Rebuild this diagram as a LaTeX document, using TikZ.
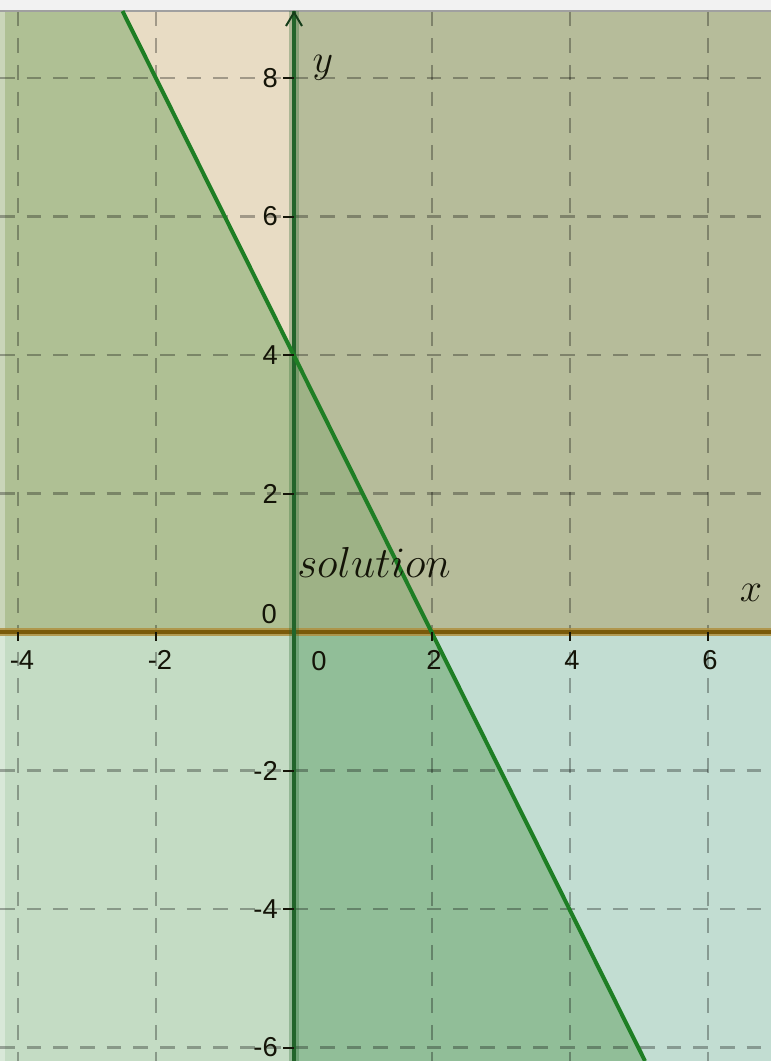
\RequirePackage{fix-cm}
\documentclass[tikz,border=0pt]{standalone}
\usepackage{fontspec}
\newfontfamily\labfont{Liberation Sans}
\definecolor{cBeige}{HTML}{E8DCC4}
\definecolor{cUL}{HTML}{AFC094}
\definecolor{cUR}{HTML}{B6BC9A}
\definecolor{cSol}{HTML}{9EB286}
\definecolor{cLL}{HTML}{C4DCC4}
\definecolor{cLM}{HTML}{91BE98}
\definecolor{cLR}{HTML}{C2DDD2}
\definecolor{cAxisY}{HTML}{22642A}
\definecolor{cLine}{HTML}{1E7E24}
\definecolor{cBrown}{HTML}{7A5A0A}
\definecolor{cBrownHalo}{HTML}{B09040}
\definecolor{cText}{HTML}{141408}
\definecolor{cTop}{HTML}{F2F2F2}
\definecolor{cTopLine}{HTML}{A0A0A0}
\begin{document}
\begin{tikzpicture}[x=0.75pt,y=-0.75pt,
  gridline/.style={black,opacity=0.3,line width=1.6pt,dash pattern=on 11pt off 9pt},
  ticklab/.style={font=\labfont\fontsize{20.5}{22}\selectfont,inner sep=0pt,text=cText},
  mathlab/.style={font=\fontsize{30}{34}\selectfont,inner sep=0pt,text=cText},
  tickmark/.style={cText,line width=1.5pt}]
\useasboundingbox (0,0) rectangle (771,1061);
% key points
\coordinate (TL) at (0,11);
\coordinate (TR) at (771,11);
\coordinate (BL) at (0,1061);
\coordinate (BR) at (771,1061);
\coordinate (LT) at (122.5,11);
\coordinate (YT) at (294,11);
\coordinate (Y4) at (294,355);
\coordinate (O) at (294,632);
\coordinate (X2) at (431.5,632);
\coordinate (XL) at (0,632);
\coordinate (XR) at (771,632);
\coordinate (YB) at (294,1061);
\coordinate (LB) at (645,1061);
% regions
\fill[cBeige] (LT) -- (YT) -- (Y4) -- cycle;
\fill[cUL] (TL) -- (LT) -- (Y4) -- (O) -- (XL) -- cycle;
\fill[cUR] (YT) -- (TR) -- (XR) -- (X2) -- (Y4) -- cycle;
\fill[cSol] (Y4) -- (X2) -- (O) -- cycle;
\fill[cLL] (XL) -- (O) -- (YB) -- (BL) -- cycle;
\fill[cLM] (O) -- (X2) -- (LB) -- (YB) -- cycle;
\fill[cLR] (X2) -- (XR) -- (BR) -- (LB) -- cycle;
% top bar and left strip
\fill[cTop] (0,0) rectangle (771,9.5);
\draw[cTopLine,line width=1.5pt] (0,10.5) -- (771,10.5);
\fill[white,opacity=0.35] (0,11.5) rectangle (5,1061);
% grid
\foreach \gx in {18,156,432,570,708}
  \draw[gridline] (\gx,11.5) -- (\gx,1061);
\foreach \gy in {78,216.5,355,493.5,770.5,909,1047.5}
  \draw[gridline] (0,\gy) -- (771,\gy);
% axes
\draw[cBrownHalo,opacity=0.85,line width=5.5pt] (XL) -- (XR);
\draw[cBrown,line width=2.4pt] (XL) -- (XR);
\draw[cAxisY,opacity=0.3,line width=7.5pt] (YT) -- (YB);
\draw[cAxisY,line width=3.3pt] (YT) -- (YB);
\coordinate (AL) at (286,26);
\coordinate (AT) at (294,12.5);
\coordinate (AR) at (302,26);
\draw[cAxisY!60!black,line width=1.5pt] (AL) -- (AT) -- (AR);
% boundary line y = 4 - 2x
\draw[cLine,line width=3pt] (LT) -- (LB);
% ticks
\foreach \gy in {78,216.5,355,493.5,770.5,909,1047.5}
  \draw[tickmark] (283,\gy) -- (294,\gy);
\foreach \gx in {18,156,432,570,708}
  \draw[tickmark] (\gx,632) -- (\gx,641);
% tick labels
\node[ticklab,anchor=east] (ly8) at (278,78) {8};
\node[ticklab,anchor=east] (ly6) at (278,216.5) {6};
\node[ticklab,anchor=east] (ly4) at (278,355) {4};
\node[ticklab,anchor=east] (ly2) at (278,493.5) {2};
\node[ticklab,anchor=east] (ly0) at (277,614) {0};
\node[ticklab,anchor=east] (lym2) at (278,770.5) {-2};
\node[ticklab,anchor=east] (lym4) at (278,909) {-4};
\node[ticklab,anchor=east] (lym6) at (278,1047.5) {-6};
\node[ticklab] (lxm4) at (22,660) {-4};
\node[ticklab] (lxm2) at (160,660) {-2};
\node[ticklab] (lx0) at (319,661) {0};
\node[ticklab] (lx2) at (434,660) {2};
\node[ticklab] (lx4) at (572,660) {4};
\node[ticklab] (lx6) at (710,660) {6};
% axis names and label
\node[mathlab] (ylab) at (323,68) {$y$};
\node[mathlab] (xlab) at (751,593) {$x$};
\node[mathlab,font=\fontsize{32.5}{36}\selectfont,anchor=base west] (sol) at (297,577) {$solution$};
\end{tikzpicture}
\end{document}
